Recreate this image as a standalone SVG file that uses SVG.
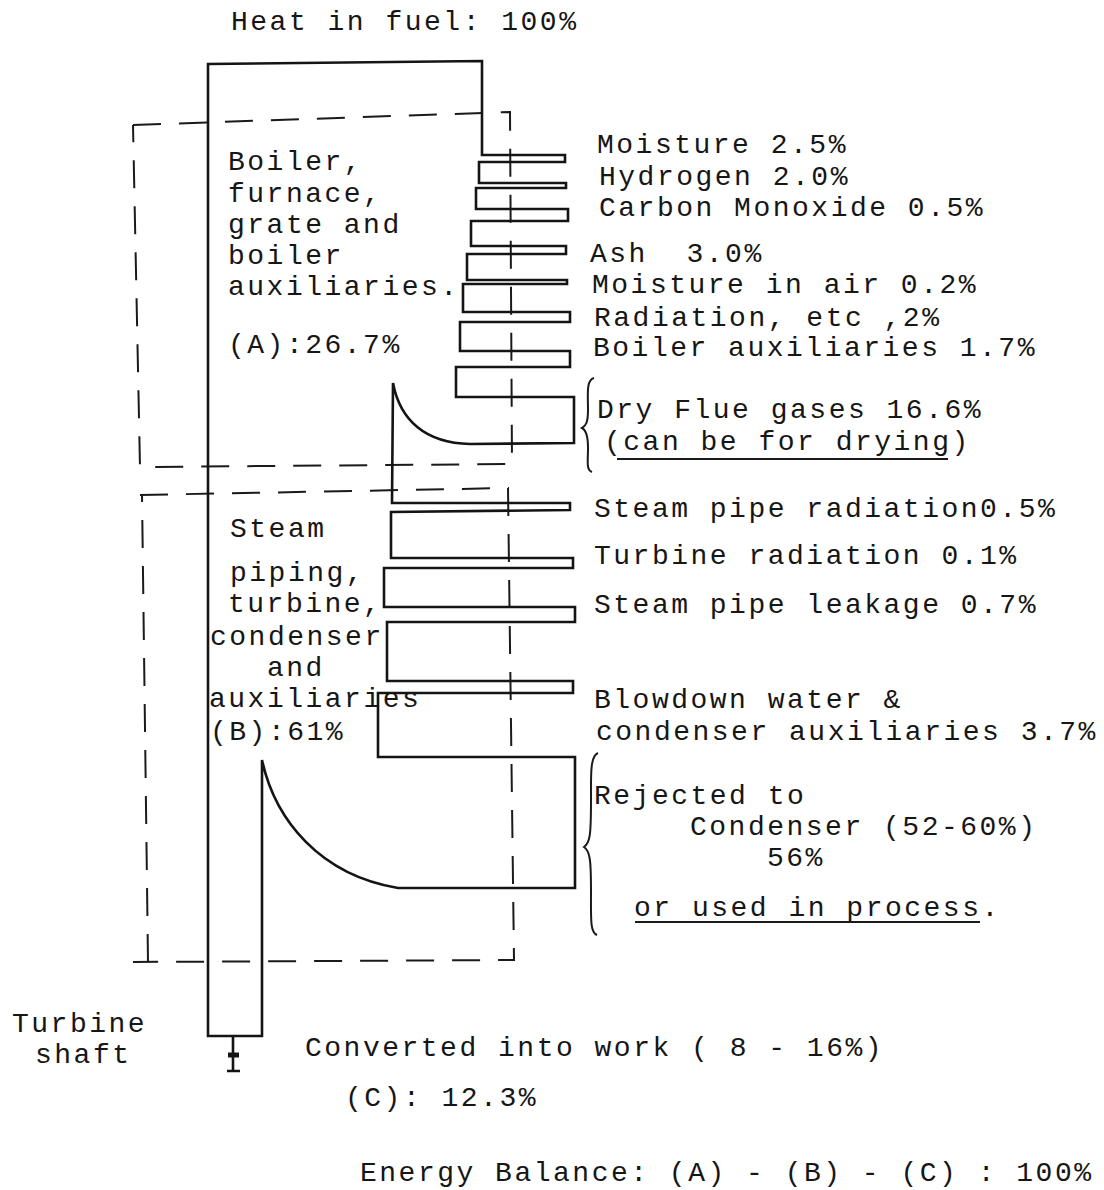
<svg xmlns="http://www.w3.org/2000/svg" width="1104" height="1190" viewBox="0 0 1104 1190">
<style>
.t{font-family:"Liberation Mono","DejaVu Sans Mono",monospace;font-size:28px;letter-spacing:2.5px;fill:#161616;white-space:pre}
.flow{fill:none;stroke:#141414;stroke-width:2.6;stroke-linejoin:miter}
.dash{fill:none;stroke:#1a1a1a;stroke-width:2;stroke-dasharray:28 18}
.brace{fill:none;stroke:#1a1a1a;stroke-width:2}
.ul{stroke:#1a1a1a;stroke-width:2}
</style>
<rect width="1104" height="1190" fill="#ffffff"/>

<g id="boxes">
  <path id="boxA" class="dash" d="M133,125 L510,112 L512,464 L140,467 L133,125"/>
  <path id="boxB" class="dash" d="M140,495 L508,488 L514,960 L133,962 M148,962 L142,495"/>
</g>

<g id="connectors">
  <path id="main-flow" class="flow" d="M208,1036 L208,64 L482,61 L482,155 L565,155 L565,162 L479,162 L479,183 L566,183 L566,188 L476,188 L476,209 L568,209 L568,221 L471,221 L471,246 L566,246 L566,254 L467,254 L467,280 L567,280 L567,284 L463,284 L463,312 L570,312 L570,322 L460,322 L460,351 L570,351 L570,367 L456,367 L456,397 L574,397 L574,443 L470,444 C425,443 400,420 393,383 L392,503 L570,503 L570,510 L391,512 L391,558 L573,558 L573,568 L384,568 L384,607 L575,607 L575,622 L387,622 L387,681 L573,681 L573,693 L378,693 L378,757 L575,757 L575,888 L398,888 C320,875 275,820 262,760 L262,1036 Z"/>
  <path id="shaft" class="flow" d="M233,1037 L233,1071 M227,1071 L240,1071"/>
  <path id="shaft-bar" stroke="#141414" stroke-width="5" d="M228,1055 L239,1055"/>
</g>

<g id="node-input">
  <text class="t" x="231" y="30">Heat in fuel: 100%</text>
</g>

<g id="node-A">
  <text class="t" x="228" y="170">Boiler,</text>
  <text class="t" x="228" y="202">furnace,</text>
  <text class="t" x="228" y="233">grate and</text>
  <text class="t" x="228" y="264">boiler</text>
  <text class="t" x="228" y="295">auxiliaries.</text>
  <text class="t" x="228" y="353">(A):26.7%</text>
</g>

<g id="node-B">
  <text class="t" x="230" y="537">Steam</text>
  <text class="t" x="230" y="581">piping,</text>
  <text class="t" x="228" y="612">turbine,</text>
  <text class="t" x="210" y="645">condenser</text>
  <text class="t" x="267" y="676">and</text>
  <text class="t" x="209" y="707">auxiliaries</text>
  <text class="t" x="210" y="740">(B):61%</text>
</g>

<g id="losses-A">
  <text class="t" x="597" y="153">Moisture 2.5%</text>
  <text class="t" x="599" y="185">Hydrogen 2.0%</text>
  <text class="t" x="599" y="216">Carbon Monoxide 0.5%</text>
  <text class="t" x="590" y="262">Ash  3.0%</text>
  <text class="t" x="592" y="293">Moisture in air 0.2%</text>
  <text class="t" x="594" y="326">Radiation, etc ,2%</text>
  <text class="t" x="593" y="356">Boiler auxiliaries 1.7%</text>
</g>

<g id="loss-flue">
  <path class="brace" d="M594,378 C586,380 588,395 588,410 C588,422 586,426 582,428 C586,430 588,436 588,448 C588,462 586,470 592,472"/>
  <text class="t" x="597" y="418">Dry Flue gases 16.6%</text>
  <text class="t" x="604" y="450">(can be for drying)</text>
  <line class="ul" x1="617" y1="459" x2="948" y2="459"/>
</g>

<g id="losses-B">
  <text class="t" x="594" y="517">Steam pipe radiation0.5%</text>
  <text class="t" x="594" y="564">Turbine radiation 0.1%</text>
  <text class="t" x="594" y="613">Steam pipe leakage 0.7%</text>
  <text class="t" x="594" y="708">Blowdown water &amp;</text>
  <text class="t" x="596" y="740">condenser auxiliaries 3.7%</text>
</g>

<g id="loss-condenser">
  <path class="brace" d="M598,753 C590,756 591,775 591,800 C591,835 590,843 584,847 C590,851 591,860 591,890 C591,920 590,932 597,935"/>
  <text class="t" x="594" y="804">Rejected to</text>
  <text class="t" x="690" y="835">Condenser (52-60%)</text>
  <text class="t" x="767" y="866">56%</text>
  <text class="t" x="634" y="916">or used in process.</text>
  <line class="ul" x1="635" y1="922" x2="980" y2="922"/>
</g>

<g id="node-C">
  <text class="t" x="12" y="1032">Turbine</text>
  <text class="t" x="35" y="1063">shaft</text>
  <text class="t" x="305" y="1056">Converted into work ( 8 - 16%)</text>
  <text class="t" x="345" y="1106">(C): 12.3%</text>
</g>

<g id="balance">
  <text class="t" x="360" y="1181">Energy Balance: (A) - (B) - (C) : 100%</text>
</g>
</svg>
